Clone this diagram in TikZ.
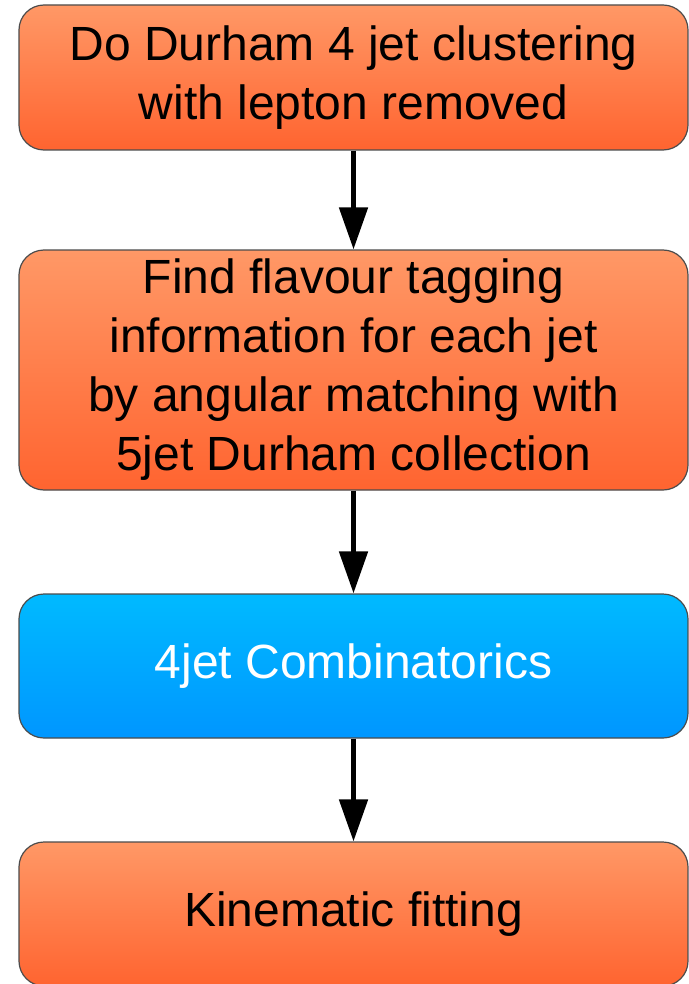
\documentclass[tikz,border=0pt]{standalone}
\usepackage{fontspec}
\setmainfont{Liberation Sans}
\usetikzlibrary{arrows.meta}

\definecolor{orangetop}{RGB}{255,152,102}
\definecolor{orangebot}{RGB}{255,100,48}
\definecolor{bluetop}{RGB}{0,186,255}
\definecolor{bluebot}{RGB}{0,150,255}

\tikzstyle{step box}=[rectangle,rounded corners=25pt,draw=black!70,line width=1.2pt,minimum width=669pt,align=center,font=\fontsize{48}{59}\selectfont,inner sep=0pt]
\tikzstyle{orange box}=[step box,top color=orangetop,bottom color=orangebot]
\tikzstyle{blue box}=[step box,top color=bluetop,bottom color=bluebot,text=white]
\tikzstyle{flow}=[line width=5pt,-{Triangle[length=42pt,width=28pt]}]

\begin{document}
\begin{tikzpicture}[x=1pt,y=-1pt]
		\useasboundingbox (0,0) rectangle (688,984);
		\node[orange box,minimum height=145pt] (cluster) at (353.5,77.5) {Do Durham 4 jet clustering\\with lepton removed};
		\node[orange box,minimum height=240pt] (tagging) at (353.5,370) {Find flavour tagging\\information for each jet\\by angular matching with\\5jet Durham collection};
		\node[blue box,minimum height=144pt] (combi) at (353.5,666) {4jet Combinatorics};
		\node[orange box,minimum height=144pt] (kinfit) at (353.5,914) {Kinematic fitting};
    		% Then the arrows between the steps
		\draw[flow] (cluster) -- (tagging);
		\draw[flow] (tagging) -- (combi);
		\draw[flow] (combi) -- (kinfit);
\end{tikzpicture}
\end{document}
